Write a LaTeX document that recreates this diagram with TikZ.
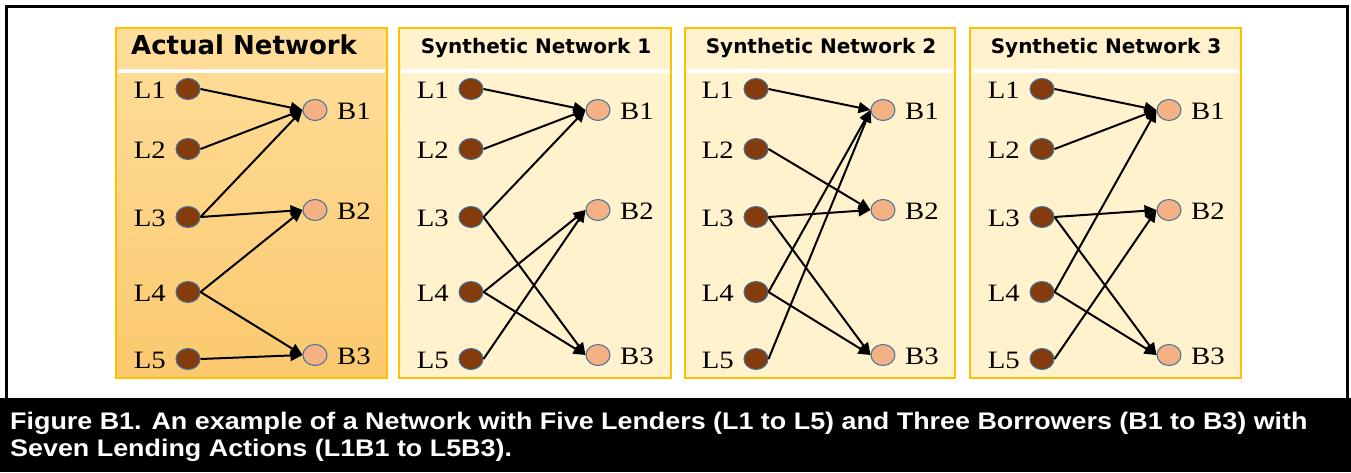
\documentclass[tikz,border=0pt]{standalone}
\usepackage{fontspec}
\usetikzlibrary{arrows.meta,shapes.geometric}
\newfontfamily\labfont[FakeStretch=1.15]{Liberation Serif}
\newfontfamily\headfont{DejaVu Sans}
\newfontfamily\capfont[FakeStretch=1.12]{Liberation Sans}
\definecolor{lbrown}{RGB}{132,60,12}
\definecolor{peach}{RGB}{244,177,131}
\definecolor{cborder}{RGB}{65,113,156}
\definecolor{gold}{RGB}{255,192,0}
\definecolor{cream}{RGB}{255,242,204}
\definecolor{orTop}{RGB}{255,222,155}
\definecolor{orBot}{RGB}{251,201,110}
\tikzset{
  lender/.style={ellipse, minimum width=24pt, minimum height=21pt, inner sep=0pt, fill=lbrown, draw=cborder, line width=1pt},
  borrower/.style={ellipse, minimum width=24pt, minimum height=21pt, inner sep=0pt, fill=peach, draw=cborder, line width=1pt},
  lab/.style={font=\labfont\fontsize{25}{25}\selectfont, inner sep=0pt},
  link/.style={line width=2pt, -{Triangle[length=12pt,width=11pt]}},
  panelbox/.style={draw=gold, line width=1.2pt},
  synhead/.style={font=\headfont\bfseries\fontsize{20}{20}\selectfont, inner sep=0pt},
  caption/.style={font=\capfont\bfseries\fontsize{24}{28}\selectfont, text=white, inner sep=0pt, anchor=base west}
}
\newcommand\netnodes[2]{%
  \foreach \i/\yy in {1/89,2/149,3/217,4/292,5/359}{
    \node[lender] (#1L\i) at (#2+72,\yy) {};
    \node[lab, anchor=east] (#1Lt\i) at (#2+50,\yy+1) {L\i};
  }
  \foreach \i/\yy in {1/110,2/210,3/355}{
    \node[borrower] (#1B\i) at (#2+199,\yy) {};
    \node[lab, anchor=west] (#1Bt\i) at (#2+221,\yy+1) {B\i};
  }
}
\newcommand\netlinks[2]{%
  \foreach \a/\b in {#2}{\draw[link] (#1L\a.east) -- (#1B\b.west);}
}
\begin{document}
\begin{tikzpicture}[x=1pt,y=-1pt]
\useasboundingbox (0,0) rectangle (1351,472);
\fill[white] (0,0) rectangle (1351,472);
% frame
\draw[line width=3pt] (6.5,400) -- (6.5,6.5) -- (1347.5,6.5) -- (1347.5,400);
\fill[black] (0,398) rectangle (1351,472);
% panels
\shade[top color=orTop, bottom color=orBot] (116,28) rectangle (387,378);
\draw[panelbox] (116,28) rectangle (387,378);
\fill[cream] (399,28) rectangle (671,378);
\draw[panelbox] (399,28) rectangle (671,378);
\fill[cream] (685,28) rectangle (955,378);
\draw[panelbox] (685,28) rectangle (955,378);
\fill[cream] (970,28) rectangle (1241,378);
\draw[panelbox] (970,28) rectangle (1241,378);
% separators
\fill[white] (118,69) rectangle (385,73);
\fill[white] (401,69) rectangle (669,73);
\fill[white] (687,69) rectangle (953,73);
\fill[white] (972,69) rectangle (1239,73);
% headers
\node[font=\headfont\bfseries\fontsize{26}{26}\selectfont, inner sep=0pt, anchor=west] (h1) at (131,45) {Actual Network};
\node[synhead] (h2) at (536,48) {Synthetic Network 1};
\node[synhead] (h3) at (821,48) {Synthetic Network 2};
\node[synhead] (h4) at (1106,48) {Synthetic Network 3};
% nodes
\netnodes{a}{116}
\netnodes{b}{399}
\netnodes{c}{684}
\netnodes{d}{970}
% links
\netlinks{a}{1/1,2/1,3/1,3/2,4/2,4/3,5/3}
\netlinks{b}{1/1,2/1,3/1,3/3,4/2,4/3,5/2}
\netlinks{c}{1/1,2/2,3/2,3/3,4/1,4/3,5/1}
\netlinks{d}{1/1,2/1,3/2,3/3,4/1,4/3,5/2}
% caption
\node[caption] (cap1) at (10,429) {Figure B1. An example of a Network with Five Lenders (L1 to L5) and Three Borrowers (B1 to B3) with};
\node[caption] (cap2) at (10,456) {Seven Lending Actions (L1B1 to L5B3).};
\end{tikzpicture}
\end{document}
